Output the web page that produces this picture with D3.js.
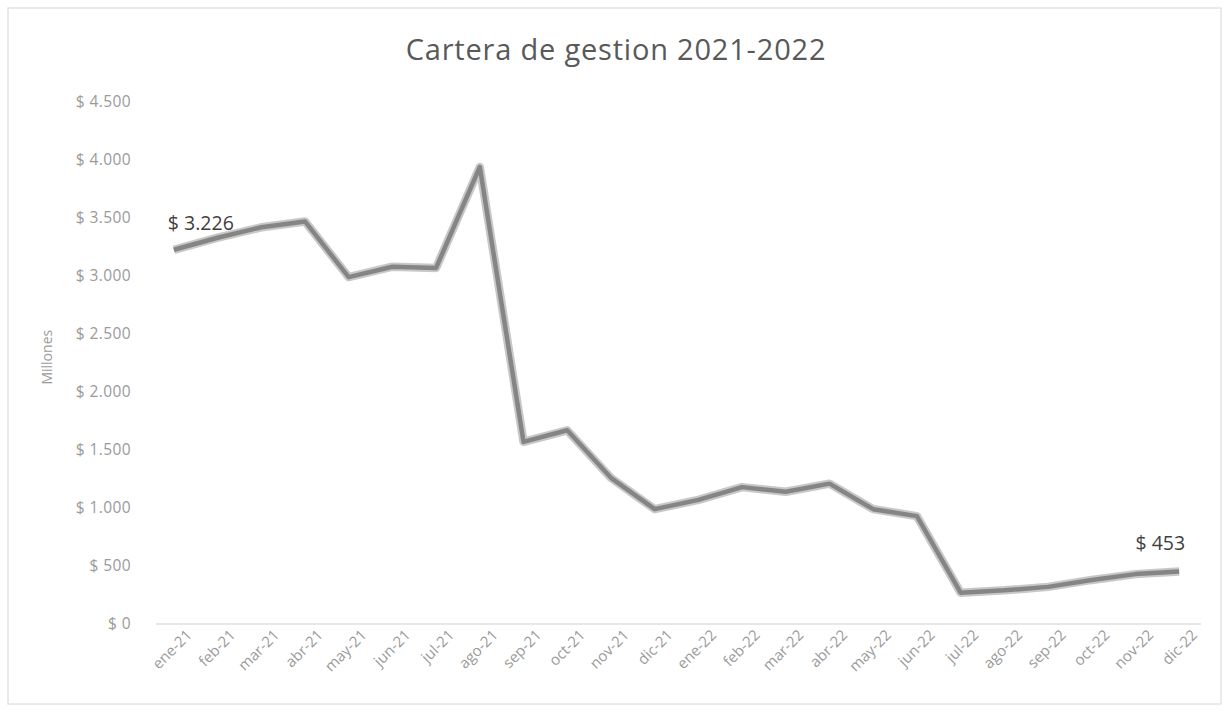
<!DOCTYPE html>
<html>
<head>
<meta charset="utf-8">
<script src="https://cdn.jsdelivr.net/npm/d3@7"></script>
<style>
  html, body { margin: 0; padding: 0; background: #fff; }
  #chart { width: 1229px; height: 712px; }
  text { font-family: "Open Sans", Lato, sans-serif; }
</style>
</head>
<body>
<div id="chart"></div>
<script>
// Cartera de gestion 2021-2022, valores en millones
const months = ["ene-21","feb-21","mar-21","abr-21","may-21","jun-21","jul-21","ago-21","sep-21","oct-21","nov-21","dic-21",
                "ene-22","feb-22","mar-22","abr-22","may-22","jun-22","jul-22","ago-22","sep-22","oct-22","nov-22","dic-22"];
const cartera = [3226, 3330, 3420, 3470, 2990, 3080, 3070, 3940, 1570, 1670, 1260, 990,
                 1070, 1180, 1140, 1210, 990, 930, 270, 290, 320, 380, 430, 453];
const yTicks = [0, 500, 1000, 1500, 2000, 2500, 3000, 3500, 4000, 4500];
const labelled = [0, 23];   // indices with data labels

const W = 1229, H = 712;
const margin = { top: 102, right: 28, bottom: 88, left: 152 };
const FONT = "'Open Sans', Lato, sans-serif";

const es = d3.formatLocale({ decimal: ",", thousands: ".", grouping: [3], currency: ["$ ", ""] });
const money = es.format("$,.0f");

const svg = d3.select("#chart").append("svg")
  .attr("width", W).attr("height", H).attr("viewBox", `0 0 ${W} ${H}`);

// faint frame of the scanned chart area
svg.append("rect").attr("x", 8).attr("y", 8).attr("width", W - 16).attr("height", H - 16)
  .attr("fill", "none").attr("stroke", "#e4e4e4").attr("stroke-width", 1.5);

const x = d3.scalePoint().domain(months).range([margin.left, W - margin.right]).padding(0.5);
const y = d3.scaleLinear().domain([0, 4500]).range([H - margin.bottom, margin.top]);

// title
svg.append("text").attr("x", 616).attr("y", 60).attr("text-anchor", "middle")
  .attr("fill", "#595959").attr("font-size", 29).attr("letter-spacing", 0.8)
  .text("Cartera de gestion 2021-2022");

// y axis (labels only)
const yAxis = svg.append("g").attr("transform", `translate(${margin.left - 18},0)`)
  .call(d3.axisLeft(y).tickValues(yTicks).tickSize(0).tickFormat(money));
yAxis.select(".domain").remove();
yAxis.selectAll("text").attr("fill", "#9a9a9a").attr("font-size", 15.5)
  .attr("letter-spacing", 0.4).attr("font-family", FONT);

// y axis title
svg.append("text").attr("transform", `translate(52,${y(2300)}) rotate(-90)`)
  .attr("text-anchor", "middle").attr("fill", "#9a9a9a").attr("font-size", 14).text("Millones");

// x axis
const xAxis = svg.append("g").attr("transform", `translate(0,${y(0)})`)
  .call(d3.axisBottom(x).tickSize(0).tickPadding(8));
xAxis.select(".domain").attr("stroke", "#d0d0d0").attr("stroke-width", 1.2)
  .attr("d", `M${margin.left + 4},0H${W - margin.right}`);
xAxis.selectAll("text")
  .attr("fill", "#9a9a9a").attr("font-size", 15).attr("font-family", FONT)
  .attr("text-anchor", "end")
  .attr("transform", "rotate(-45)")
  .attr("dx", "0.3em").attr("dy", "0.9em");

// line with soft halo like the scan
const line = d3.line().x((d, i) => x(months[i])).y(d => y(d));
svg.append("path").datum(cartera).attr("fill", "none")
  .attr("stroke", "#c8c8c8").attr("stroke-width", 8.5).attr("stroke-linejoin", "round").attr("d", line);
svg.append("path").datum(cartera).attr("fill", "none")
  .attr("stroke", "#858585").attr("stroke-width", 4.5).attr("stroke-linejoin", "round").attr("d", line);

// data labels
labelled.forEach(i => {
  const first = i === 0;
  svg.append("text")
    .attr("x", x(months[i]) + (first ? -6 : 6))
    .attr("y", y(cartera[i]) - (first ? 20 : 21))
    .attr("text-anchor", first ? "start" : "end")
    .attr("fill", "#3f3f3f").attr("font-size", 19.5)
    .text(money(cartera[i]));
});
</script>
</body>
</html>
